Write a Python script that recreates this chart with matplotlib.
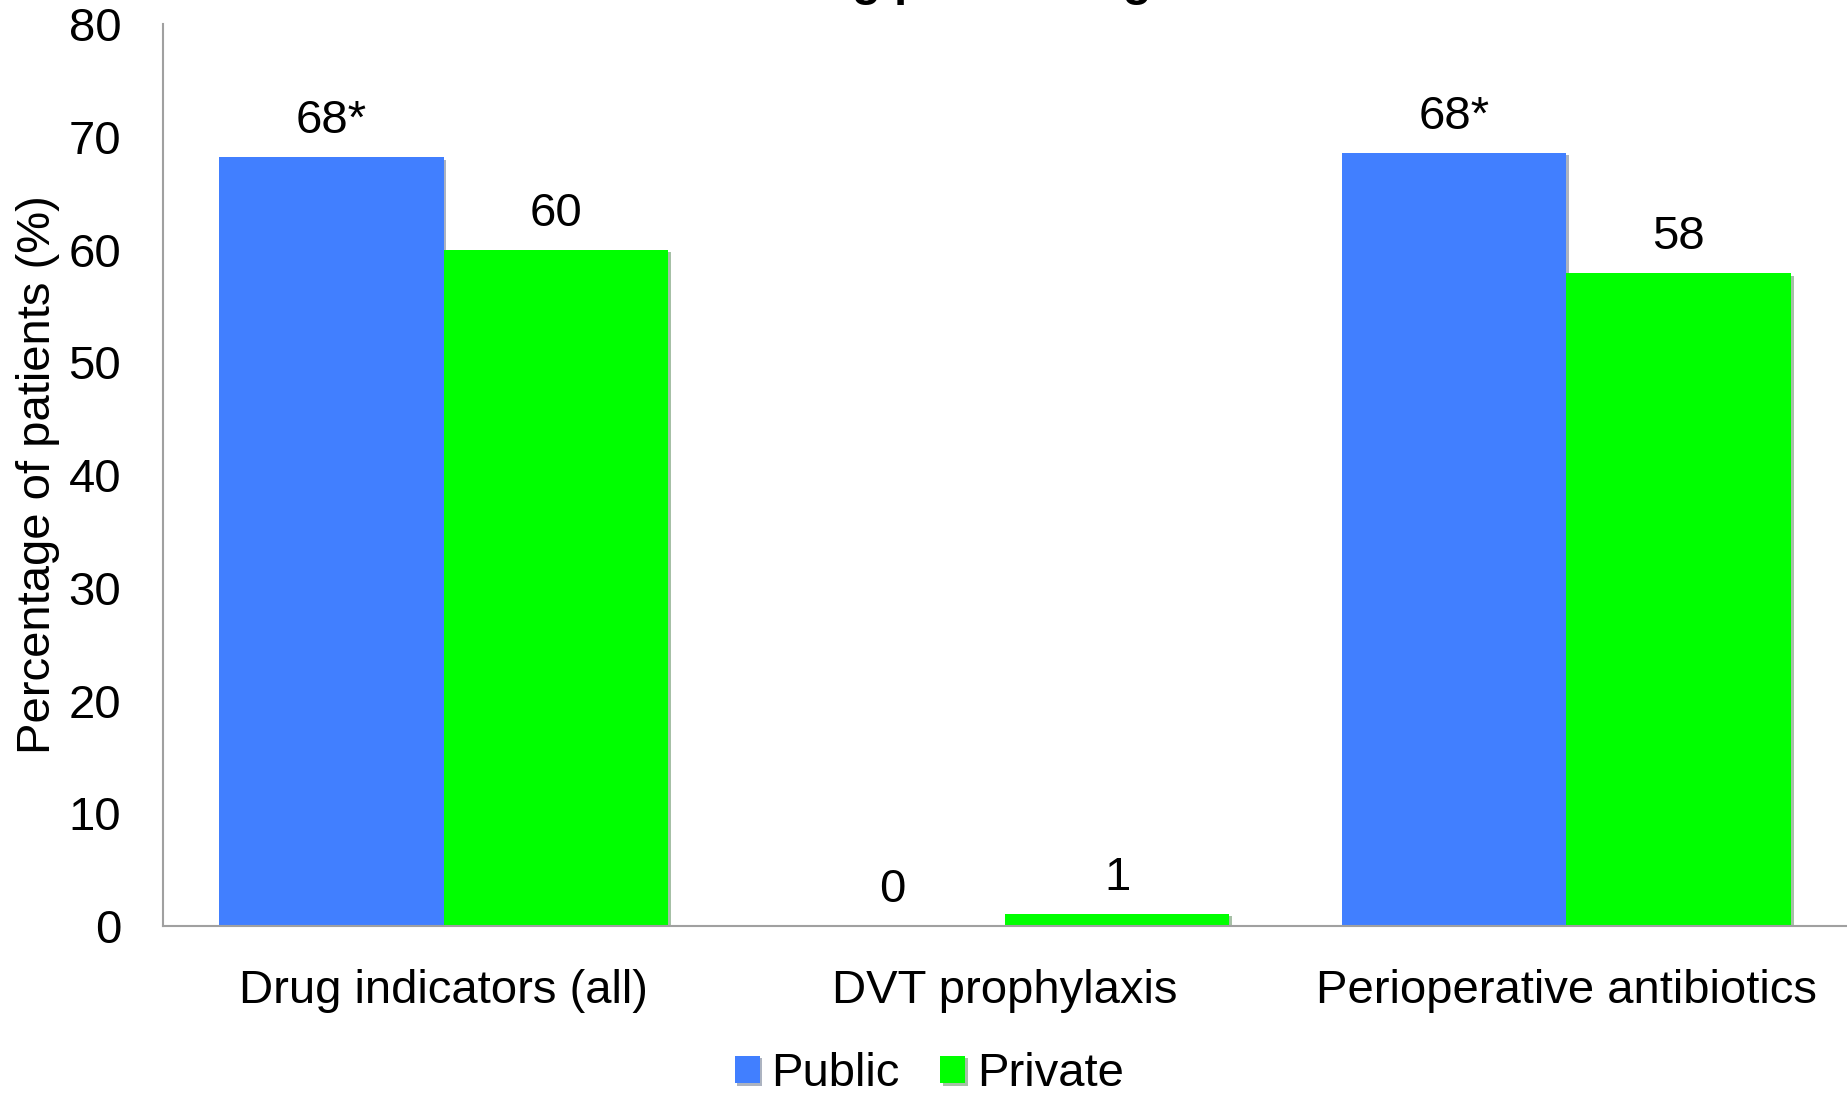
import matplotlib
matplotlib.use("Agg")
import numpy as np
from matplotlib import pyplot as plt
from matplotlib import patheffects as pe

categories = ["Drug indicators (all)", "DVT prophylaxis", "Perioperative antibiotics"]
public = [68.2, 0, 68.6]
private = [60, 1.1, 57.9]
public_labels = ["68*", "0", "68*"]
private_labels = ["60", "1", "58"]

plt.rcParams['font.family'] = ['Liberation Sans', 'DejaVu Sans']

fig = plt.figure(figsize=(18.47, 10.95), dpi=100)
ax = fig.add_axes([0.0882, 0.1543, 0.9118, 0.8237])

x = np.arange(len(categories))
w = 0.4
shadow = [pe.SimplePatchShadow(offset=(2, -2), alpha=0.35), pe.Normal()]
b1 = ax.bar(x - w / 2, public, w, color="#417FFF", label="Public", path_effects=shadow)
b2 = ax.bar(x + w / 2, private, w, color="#00FF00", label="Private", path_effects=shadow)

for bars, labs in ((b1, public_labels), (b2, private_labels)):
    for rect, lab in zip(bars, labs):
        ax.annotate(lab, (rect.get_x() + rect.get_width() / 2, rect.get_height()),
                    xytext=(0, 10), textcoords="offset points",
                    ha="center", va="bottom", fontsize=34)

ax.set_xlim(-0.5, 2.5)
ax.set_ylim(0, 80)
ax.set_yticks(range(0, 81, 10))
ax.set_xticks(x)
ax.set_xticklabels(categories)
ax.tick_params(axis="both", length=0, labelsize=34)
ax.tick_params(axis="x", pad=31)
ax.tick_params(axis="y", pad=30)
ax.set_ylabel("Percentage of patients (%)", fontsize=34, labelpad=6)

for s in ("top", "right"):
    ax.spines[s].set_visible(False)
for s in ("left", "bottom"):
    ax.spines[s].set_color("#A0A0A0")
    ax.spines[s].set_linewidth(1.5)

# title is cut off at the top edge in the original
fig.text(0.4174, 1.0046, "Drug prescribing indicators", fontsize=34, fontweight="bold",
         ha="left", va="baseline")

fig.legend(loc="center", bbox_to_anchor=(0.503, 0.019), ncol=2, frameon=False,
           fontsize=34, handlelength=0.53, handleheight=0.53, handletextpad=0.25,
           columnspacing=0.85, borderpad=0)

fig.savefig("out.png", dpi=100)
